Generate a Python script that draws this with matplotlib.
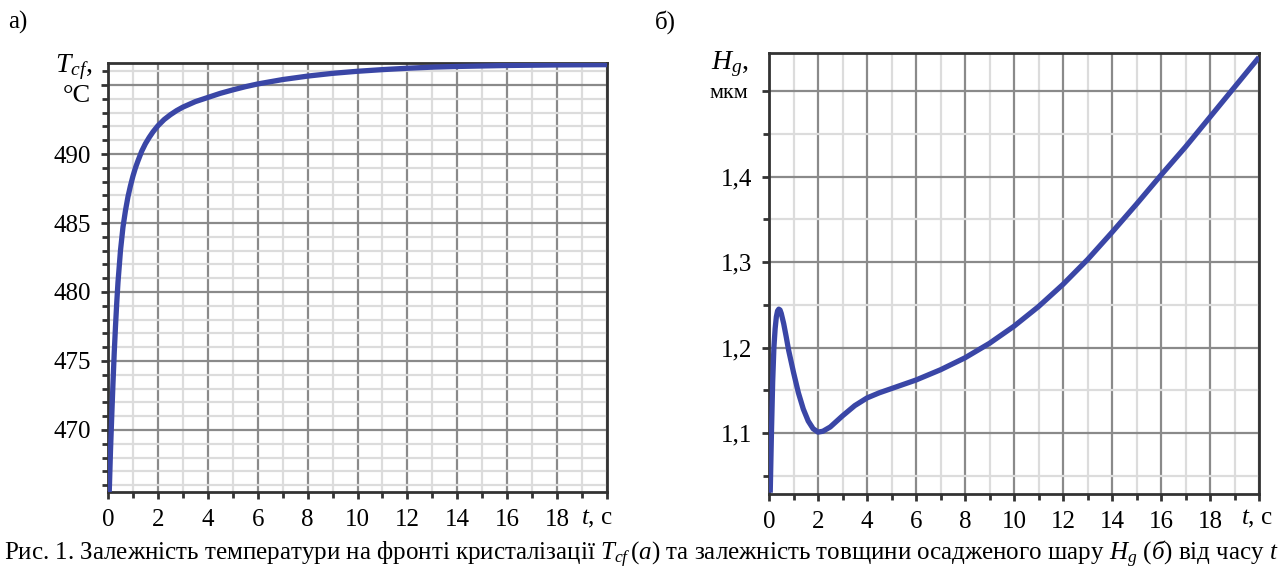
import matplotlib
matplotlib.use("Agg")
import matplotlib.pyplot as plt
from matplotlib.ticker import MultipleLocator, FixedLocator, FixedFormatter

plt.rcParams['font.family'] = ['Liberation Serif', 'DejaVu Serif']
plt.rcParams['mathtext.fontset'] = 'custom'
plt.rcParams['mathtext.rm'] = 'Liberation Serif'
plt.rcParams['mathtext.it'] = 'Liberation Serif:italic'
plt.rcParams['mathtext.bf'] = 'Liberation Serif:bold'

# ---- data (a): crystallisation front temperature ----
t_a = [0.05, 0.1, 0.15, 0.2, 0.25, 0.3, 0.35, 0.4, 0.5, 0.6, 0.7, 0.8, 0.9,
       1.0, 1.1, 1.2, 1.35, 1.5, 1.65, 1.8, 2.0, 2.25, 2.5, 2.75, 3.0, 3.5,
       4.0, 4.5, 5.0, 5.5, 6.0, 7.0, 8.0, 9.0, 10.0, 11.0, 12.0, 13.0, 14.0,
       16.0, 18.0, 20.0]
T_cf = [465.5, 468.5, 471.0, 473.4, 475.6, 477.5, 479.2, 480.7, 483.0, 484.7,
        485.9, 486.9, 487.7, 488.4, 489.0, 489.5, 490.2, 490.75, 491.2, 491.6,
        492.05, 492.5, 492.85, 493.15, 493.4, 493.8, 494.1, 494.4, 494.65,
        494.88, 495.08, 495.4, 495.65, 495.85, 496.0, 496.12, 496.22, 496.3,
        496.35, 496.42, 496.46, 496.48]

# ---- data (б): deposited layer thickness ----
t_b = [0.05, 0.1, 0.15, 0.2, 0.25, 0.3, 0.35, 0.4, 0.45, 0.5, 0.6, 0.7, 0.8,
       0.9, 1.0, 1.2, 1.4, 1.6, 1.8, 2.0, 2.2, 2.5, 3.0, 3.5, 4.0, 4.5, 5.0,
       6.0, 7.0, 8.0, 9.0, 10.0, 11.0, 12.0, 13.0, 14.0, 15.0, 16.0, 17.0,
       18.0, 19.0, 20.0]
H_g = [1.03, 1.10, 1.16, 1.20, 1.222, 1.236, 1.243, 1.245, 1.244, 1.24, 1.228,
       1.213, 1.197, 1.184, 1.171, 1.147, 1.128, 1.114, 1.105, 1.101, 1.102,
       1.107, 1.12, 1.132, 1.141, 1.147, 1.152, 1.162, 1.174, 1.188, 1.205,
       1.225, 1.248, 1.274, 1.303, 1.335, 1.368, 1.402, 1.435, 1.47, 1.505,
       1.54]

x_ticks = [0, 2, 4, 6, 8, 10, 12, 14, 16, 18]
x_ticklabels = ['0', '2', '4', '6', '8', '10', '12', '14', '16', '18']
ya_ticks = [470, 475, 480, 485, 490, 495]
ya_ticklabels = ['470', '475', '480', '485', '490', '']
yb_ticks = [1.1, 1.2, 1.3, 1.4, 1.5]
yb_ticklabels = ['1,1', '1,2', '1,3', '1,4', '']

LINE_COLOR = '#3a46a6'
W, H = 1282, 574
fig = plt.figure(figsize=(W / 100, H / 100), dpi=100)

ax1 = fig.add_axes([108 / W, 1 - 492 / H, 499 / W, 429 / H])
ax2 = fig.add_axes([769 / W, 1 - 494 / H, 490 / W, 441 / H])


def style(ax, yminor):
    ax.set_xlim(0, 20)
    ax.xaxis.set_major_locator(FixedLocator(x_ticks + [20]))
    ax.xaxis.set_major_formatter(FixedFormatter(x_ticklabels + ['']))
    ax.xaxis.set_minor_locator(MultipleLocator(1))
    ax.yaxis.set_minor_locator(MultipleLocator(yminor))
    ax.grid(True, which='major', color='#8a8a8a', linewidth=1.6, zorder=1)
    ax.grid(True, which='minor', color='#dcdcdc', linewidth=1.6, zorder=0)
    ax.set_axisbelow(True)
    for s in ax.spines.values():
        s.set_color('#333333')
        s.set_linewidth(2.0)
    ax.tick_params(which='both', direction='out', color='#333333', width=2,
                   labelsize=18, top=False, right=False)
    ax.tick_params(which='major', length=5, pad=7)
    ax.tick_params(which='minor', length=4)


style(ax1, 1)
ax1.set_ylim(465.5, 496.6)
ax1.yaxis.set_major_locator(FixedLocator(ya_ticks))
ax1.yaxis.set_major_formatter(FixedFormatter(ya_ticklabels))
ax1.plot(t_a, T_cf, color=LINE_COLOR, linewidth=3.8, solid_capstyle='butt',
         solid_joinstyle='round', zorder=3)

style(ax2, 0.05)
ax2.set_ylim(1.0285, 1.545)
ax2.yaxis.set_major_locator(FixedLocator(yb_ticks))
ax2.yaxis.set_major_formatter(FixedFormatter(yb_ticklabels))
ax2.plot(t_b, H_g, color=LINE_COLOR, linewidth=3.8, solid_capstyle='butt',
         solid_joinstyle='round', zorder=3)

# x-axis end labels
for xpix in (597, 1257):
    fig.text(xpix / W, 1 - 519 / H, r'$t$, с', fontsize=18,
             ha='center', va='center')

# y-axis unit labels
fig.text(92 / W, 1 - 67 / H, r'$T_{cf}$,', fontsize=20, ha='right', va='center')
fig.text(91 / W, 1 - 96 / H, '°C', fontsize=19, ha='right', va='center')
fig.text(749 / W, 1 - 64 / H, r'$H_g$,', fontsize=20, ha='right', va='center')
fig.text(748 / W, 1 - 94 / H, 'мкм', fontsize=16, ha='right', va='center')

# panel letters
fig.text(8 / W, 1 - 22 / H, 'а)', fontsize=18, ha='left', va='center')
fig.text(655 / W, 1 - 22 / H, 'б)', fontsize=18, ha='left', va='center')

# caption
caption = (r'Рис. 1. Залежність температури на фронті кристалізації '
           r'$T_{cf}\,(a)$ та залежність товщини осадженого шару '
           r'$H_g$ $(\mathit{б})$ від часу $t$')
fig.text(641 / W, 1 - 554 / H, caption, fontsize=18, ha='center',
         va='center')

fig.savefig('out.png', dpi=100)
